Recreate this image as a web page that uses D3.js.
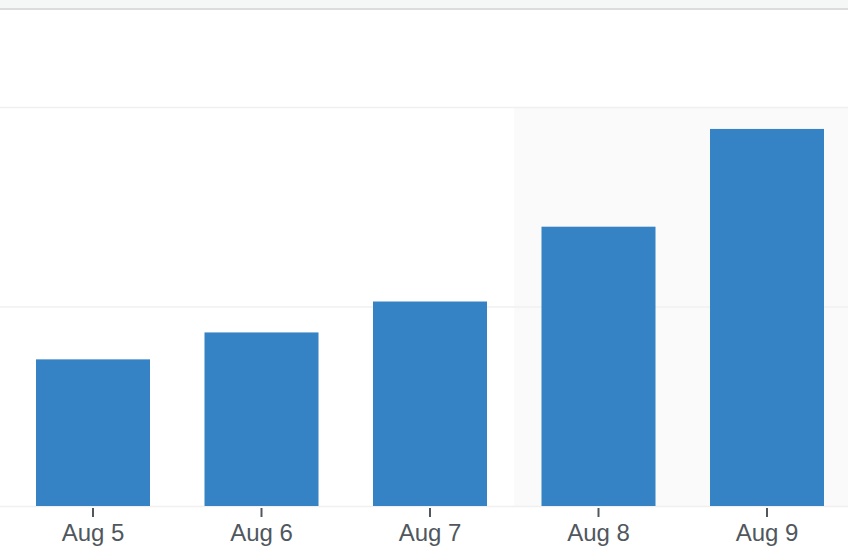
<!DOCTYPE html>
<html>
<head>
<meta charset="utf-8">
<script src="https://cdn.jsdelivr.net/npm/d3@7"></script>
<style>
    html, body { margin: 0; padding: 0; background: #fff; }
    #chart svg { display: block; }
    .x.axis text { font-family: "Liberation Sans", Helvetica, Arial, sans-serif; font-size: 24px; fill: #50575e; }
    .x.axis line { stroke: #50575e; }
</style>
</head>
<body>
<div id="chart"></div>
<script>
const days = ['Aug 5', 'Aug 6', 'Aug 7', 'Aug 8', 'Aug 9'];
const visits = [73.5, 87, 102.5, 140, 189];
const gridTicks = [0, 100, 200];
const highlighted = ['Aug 8', 'Aug 9'];

const width = 848;
const height = 556;

const svg = d3.select('#chart').append('svg')
    .attr('width', width)
    .attr('height', height);

// header strip above the chart
svg.append('rect')
    .attr('x', 0).attr('y', 0)
    .attr('width', width).attr('height', 8)
    .attr('fill', '#f5f6f6');
svg.append('rect')
    .attr('x', 0).attr('y', 8)
    .attr('width', width).attr('height', 2)
    .attr('fill', '#dcdcdc');

const x = d3.scaleBand()
    .domain(days)
    .range([8.75, 851.25])
    .paddingInner(0.3234)
    .paddingOuter(0.1617);

const y = d3.scaleLinear()
    .domain([0, 200])
    .range([506, 107]);

// shaded period (full band steps)
const step = x.step();
const hStart = x(highlighted[0]) - step * x.paddingInner() / 2;
svg.append('rect')
    .attr('x', hStart)
    .attr('y', y(200))
    .attr('width', width - hStart)
    .attr('height', y(0) - y(200))
    .attr('fill', '#fafafa');

// gridlines
svg.append('g')
    .selectAll('line')
    .data(gridTicks).enter()
    .append('line')
    .attr('x1', 0)
    .attr('x2', width)
    .attr('y1', d => y(d) + 0.5)
    .attr('y2', d => y(d) + 0.5)
    .attr('stroke', '#f0f0f0')
    .attr('stroke-width', 1.5);

// bars
svg.append('g')
    .selectAll('rect')
    .data(visits).enter()
    .append('rect')
    .attr('x', (d, i) => x(days[i]))
    .attr('y', d => y(d))
    .attr('width', x.bandwidth())
    .attr('height', d => y(0) - y(d))
    .attr('fill', '#3582c4');

// x axis
const xAxis = d3.axisBottom(x).tickSize(9).tickPadding(7);
svg.append('g')
    .attr('class', 'x axis')
    .attr('transform', 'translate(0, 508)')
    .call(xAxis)
    .call(g => g.select('.domain').remove())
    .call(g => g.selectAll('.tick line').attr('stroke-width', 2));
</script>
</body>
</html>
